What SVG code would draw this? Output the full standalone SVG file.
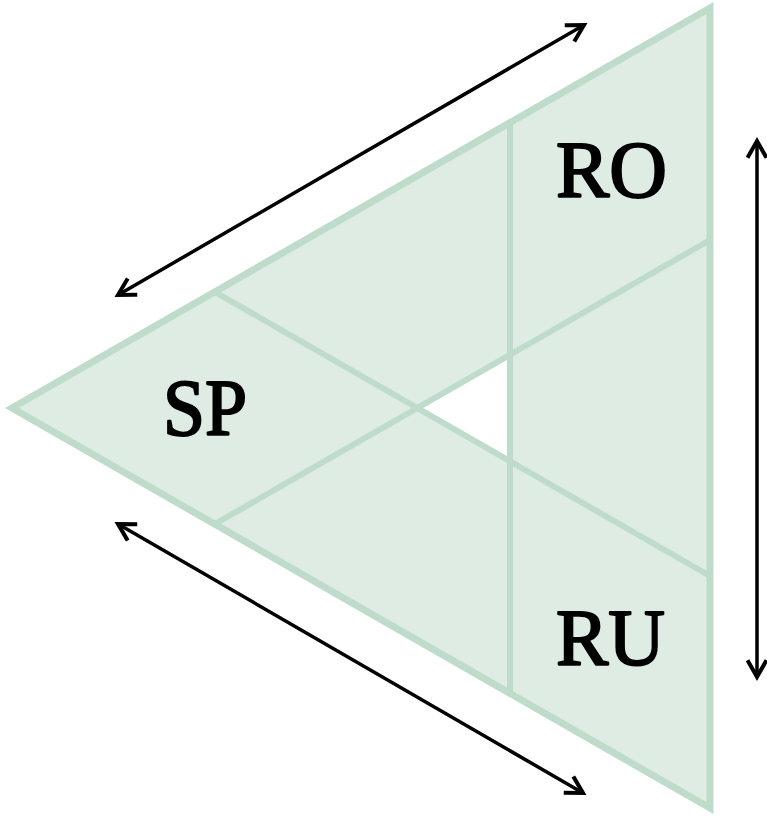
<svg xmlns="http://www.w3.org/2000/svg" width="767" height="816" viewBox="0 0 767 816">
<style>
.tri{fill:#dfece3;stroke:#bfdccb;stroke-width:7;stroke-linejoin:miter}
.div{stroke:#bfdccb;stroke-width:6;fill:none}
.hole{fill:#ffffff;stroke:none}
.arr{stroke:#000;stroke-width:3.5;fill:none;marker-start:url(#ah);marker-end:url(#ah)}
.lbl{fill:#000;stroke:#000;stroke-width:2.2;stroke-linejoin:round}
</style>
<defs>
<marker id="ah" markerUnits="userSpaceOnUse" markerWidth="30" markerHeight="30" viewBox="-20 -15 30 30" refX="0" refY="0" orient="auto-start-reverse">
<path d="M-15 -8.5 L0 0 L-15 8.5" stroke="#000" stroke-width="4" fill="none" stroke-linecap="square"/>
</marker>
</defs>
<g id="triangle">
<polygon class="tri" points="12,408 710,8 710,808"/>
<polygon class="hole" points="417,408 510,355 510,461"/>
<line class="div" x1="215" y1="292" x2="710" y2="576"/>
<line class="div" x1="215" y1="524" x2="710" y2="240"/>
<line class="div" x1="510" y1="123" x2="510" y2="693"/>
</g>
<g id="RO"><text class="lbl" font-family="Liberation Serif, serif" font-size="81" x="556" y="197" textLength="111" lengthAdjust="spacingAndGlyphs">RO</text></g>
<g id="SP"><text class="lbl" font-family="Liberation Serif, serif" font-size="81" x="163" y="435" textLength="84" lengthAdjust="spacingAndGlyphs">SP</text></g>
<g id="RU"><text class="lbl" font-family="Liberation Serif, serif" font-size="81" x="556" y="665" textLength="109" lengthAdjust="spacingAndGlyphs">RU</text></g>
<g id="connectors">
<line class="arr" x1="118" y1="295" x2="584" y2="25"/>
<line class="arr" x1="757" y1="141" x2="757" y2="677"/>
<line class="arr" x1="118" y1="524" x2="583" y2="793"/>
</g>
</svg>
